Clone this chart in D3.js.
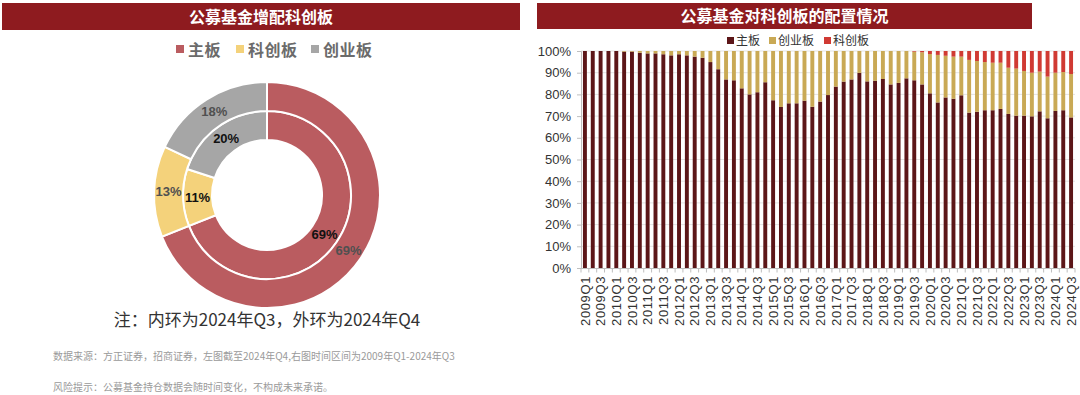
<!DOCTYPE html>
<html>
<head>
<meta charset="utf-8">
<script src="https://cdn.jsdelivr.net/npm/d3@7"></script>
<style>
  body { margin: 0; background: #fff; }
  svg { display: block; font-family: "Noto Sans CJK SC", "Noto Sans", sans-serif; }
  .num { font-family: "Liberation Sans", Arial, sans-serif; }
</style>
</head>
<body>
<svg id="chart" width="1080" height="395"></svg>
<script>
// left donut: order 主板, 科创板, 创业板
const donutNames = ['主板', '科创板', '创业板'];
const donutColors = ['#BA5C60', '#F4D27B', '#A6A6A6'];
const innerRing = [69, 11, 20];   // 2024Q3
const outerRing = [69, 13, 18];   // 2024Q4

// right stacked bars, 2009Q1 .. 2024Q3
const years = d3.range(2009, 2025);
const quarters = [];
years.forEach(y => ['Q1', 'Q2', 'Q3', 'Q4'].forEach(q => quarters.push(y + q)));
quarters.length = 63;

const mainBoard = [
  100, 100, 100, 100, 100, 99.7, 99.7, 99.2, 98.9, 98.9,
  98.5, 98.0, 98.5, 98.0, 97.4, 96.9, 94.9, 91.6, 86.9, 86.5,
  82.8, 80.0, 81.0, 85.6, 77.3, 74.2, 75.9, 75.9, 77.1, 74.3,
  76.7, 79.7, 83.6, 85.9, 86.9, 89.9, 86.0, 86.3, 87.1, 84.6,
  85.3, 87.4, 86.5, 84.6, 80.5, 76.3, 78.6, 78.0, 79.6, 71.6,
  72.0, 72.7, 72.7, 73.3, 71.0, 70.2, 70.2, 69.9, 72.2, 69.0,
  72.4, 72.7, 69.4
];
const chinext = [
  0, 0, 0, 0, 0, 0.3, 0.3, 0.8, 1.1, 1.1,
  1.5, 2.0, 1.5, 2.0, 2.6, 3.1, 5.1, 8.4, 13.1, 13.5,
  17.2, 20.0, 19.0, 14.4, 22.7, 25.8, 24.1, 24.1, 22.9, 25.7,
  23.3, 20.3, 16.4, 14.1, 13.1, 10.1, 14.0, 13.7, 12.9, 15.4,
  14.7, 12.6, 13.2, 14.8, 18.1, 21.9, 19.2, 19.4, 17.8, 24.3,
  23.4, 22.2, 21.9, 21.3, 21.3, 21.7, 20.6, 20.1, 18.3, 19.2,
  17.6, 17.6, 20.0
];
const star = [
  0, 0, 0, 0, 0, 0, 0, 0, 0, 0,
  0, 0, 0, 0, 0, 0, 0, 0, 0, 0,
  0, 0, 0, 0, 0, 0, 0, 0, 0, 0,
  0, 0, 0, 0, 0, 0, 0, 0, 0, 0,
  0, 0, 0.3, 0.6, 1.4, 1.8, 2.2, 2.6, 2.6, 4.1,
  4.6, 5.1, 5.4, 5.4, 7.7, 8.1, 9.2, 10.0, 9.5, 11.8,
  10.0, 9.7, 10.6
];
const barNames = ['主板', '创业板', '科创板'];
const barColors = ['#5C1618', '#C9A955', '#D03A33'];
const yTicks = d3.range(0, 101, 10);

const svg = d3.select('#chart');
const titleRed = '#8E1B1F';

// ---------- left panel ----------
svg.append('rect').attr('x', 2).attr('y', 3).attr('width', 518).attr('height', 27).attr('fill', titleRed);
svg.append('text').attr('x', 261).attr('y', 22.5).attr('text-anchor', 'middle')
  .attr('fill', '#fff').attr('font-size', 16).attr('font-weight', 'bold').text('公募基金增配科创板');

const leftLegend = [{ x: 176 }, { x: 236 }, { x: 311 }];
leftLegend.forEach((p, i) => {
  svg.append('rect').attr('x', p.x).attr('y', 45).attr('width', 8).attr('height', 8).attr('fill', donutColors[i]);
  svg.append('text').attr('x', p.x + 12).attr('y', 55.5).attr('fill', '#6b6b6b')
    .attr('font-size', 16).attr('font-weight', 'bold').attr('letter-spacing', 0.5).text(donutNames[i]);
});

const cx = 267, cy = 195;
const pie = d3.pie().sort(null).value(d => d);
const donut = svg.append('g').attr('transform', `translate(${cx},${cy})`);

function drawRing(values, r0, r1, labelFill, labelWeight) {
  const arc = d3.arc().innerRadius(r0).outerRadius(r1);
  const arcs = pie(values);
  donut.append('g').selectAll('path').data(arcs).enter().append('path')
    .attr('d', arc)
    .attr('fill', (d, i) => donutColors[i])
    .attr('stroke', '#fff').attr('stroke-width', 2);
  donut.append('g').selectAll('text').data(arcs).enter().append('text')
    .attr('class', 'num')
    .attr('transform', d => `translate(${arc.centroid(d)})`)
    .attr('text-anchor', 'middle').attr('dy', '0.35em')
    .attr('font-size', 13).attr('font-weight', labelWeight).attr('fill', labelFill)
    .text(d => d.data + '%');
}
drawRing(innerRing, 55, 84, '#111', 'bold');
drawRing(outerRing, 84, 113, '#505050', 'bold');

svg.append('text').attr('x', 267).attr('y', 326).attr('text-anchor', 'middle')
  .attr('font-size', 17).attr('fill', '#333').text('注：内环为2024年Q3，外环为2024年Q4');
svg.append('text').attr('x', 53).attr('y', 360).attr('font-size', 10).attr('fill', '#9a9a9a')
  .text('数据来源：方正证券，招商证券，左图截至2024年Q4,右图时间区间为2009年Q1-2024年Q3');
svg.append('text').attr('x', 53).attr('y', 391).attr('font-size', 10).attr('fill', '#9a9a9a')
  .text('风险提示：公募基金持仓数据会随时间变化，不构成未来承诺。');

// ---------- right panel ----------
svg.append('rect').attr('x', 537).attr('y', 3).attr('width', 495).attr('height', 26).attr('fill', titleRed);
svg.append('text').attr('x', 784.5).attr('y', 22).attr('text-anchor', 'middle')
  .attr('fill', '#fff').attr('font-size', 16).attr('font-weight', 'bold').text('公募基金对科创板的配置情况');

const rightLegend = [727, 769, 824];
rightLegend.forEach((lx, i) => {
  svg.append('rect').attr('x', lx).attr('y', 37).attr('width', 7).attr('height', 7).attr('fill', barColors[i]);
  svg.append('text').attr('x', lx + 9).attr('y', 45).attr('fill', '#333')
    .attr('font-size', 12).text(barNames[i]);
});

const x = d3.scaleBand().domain(quarters).range([581, 1075]).paddingInner(0.5).paddingOuter(0.25);
const y = d3.scaleLinear().domain([0, 100]).range([268, 51]);

// grid
svg.append('g').selectAll('line').data(yTicks.slice(1)).enter().append('line')
  .attr('x1', 581).attr('x2', 1075).attr('y1', d => y(d)).attr('y2', d => y(d))
  .attr('stroke', '#e4e4e4').attr('stroke-width', 1);

const rows = quarters.map((q, i) => ({ q, main: mainBoard[i], chinext: chinext[i], star: star[i] }));
const stack = d3.stack().keys(['main', 'chinext', 'star'])(rows);

svg.append('g').selectAll('g').data(stack).enter().append('g')
  .attr('fill', (d, i) => barColors[i])
  .selectAll('rect').data(d => d).enter().append('rect')
  .attr('x', d => x(d.data.q))
  .attr('width', x.bandwidth())
  .attr('y', d => y(d[1]))
  .attr('height', d => Math.max(0, y(d[0]) - y(d[1])));

const yAxis = svg.append('g').attr('transform', 'translate(581,0)')
  .call(d3.axisLeft(y).tickValues(yTicks).tickFormat(d => d + '%').tickSize(4).tickPadding(6));
yAxis.select('.domain').attr('stroke', '#bfbfbf');
yAxis.selectAll('.tick line').attr('stroke', '#bfbfbf');
yAxis.selectAll('text').attr('class', 'num').attr('font-size', 13).attr('fill', '#333');

// x axis: ticks between categories, labels every other quarter
const xg = svg.append('g');
xg.append('line').attr('x1', 581).attr('x2', 1075).attr('y1', 268.5).attr('y2', 268.5).attr('stroke', '#bfbfbf');
const gap = (x.step() - x.bandwidth()) / 2;
xg.selectAll('line.tk').data(quarters.concat(['end'])).enter().append('line')
  .attr('class', 'tk')
  .attr('x1', (d, i) => i < quarters.length ? x(d) - gap : x(quarters[quarters.length - 1]) + x.bandwidth() + gap)
  .attr('x2', (d, i) => i < quarters.length ? x(d) - gap : x(quarters[quarters.length - 1]) + x.bandwidth() + gap)
  .attr('y1', 268.5).attr('y2', 272.5).attr('stroke', '#bfbfbf');
xg.selectAll('text').data(quarters.filter((q, i) => i % 2 === 0)).enter().append('text')
  .attr('class', 'num')
  .attr('transform', d => `translate(${x(d) + x.bandwidth() / 2},276) rotate(-90)`)
  .attr('text-anchor', 'end').attr('dy', '0.36em')
  .attr('font-size', 13).attr('letter-spacing', 0.6).attr('fill', '#333')
  .text(d => d);
</script>
</body>
</html>
